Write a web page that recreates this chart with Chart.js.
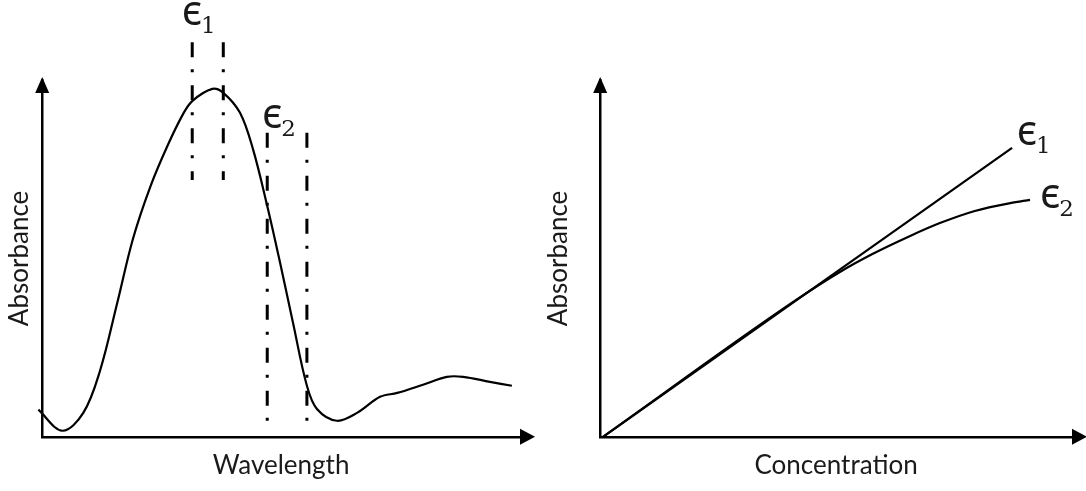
<!DOCTYPE html>
<html>
<head>
<meta charset="utf-8">
<script src="https://cdn.jsdelivr.net/npm/chart.js@4/dist/chart.umd.min.js"></script>
<style>
  html, body { margin: 0; padding: 0; background: #fff; }
  #wrap { display: flex; width: 1086px; height: 491px; }
  canvas { display: block; }
</style>
</head>
<body>
<div id="wrap">
  <canvas id="specChart" width="543" height="491"></canvas>
  <canvas id="beerChart" width="543" height="491"></canvas>
</div>
<script>
// absorbance spectrum (left panel), x = wavelength, y = absorbance (arbitrary units)
const spectrumX = [-0.8, 4.2, 8.6, 12.1, 15.7, 19.0, 22.6, 26.2, 29.5, 31.4, 35.6, 37.9, 41.4, 44.1, 47.1, 49.8, 52.5, 55.4, 57.5, 61.7, 65.9, 70.7, 74.3, 79.7, 84.7, 88.1, 93.7, 98.3];
const spectrumY = [7.6, 1.7, 6.7, 18.5, 37.5, 55.5, 70.0, 81.5, 90.5, 94.1, 97.5, 96.4, 90.8, 80.7, 64.7, 48.7, 31.9, 14.3, 7.8, 4.5, 6.7, 11.2, 12.3, 14.6, 16.8, 16.8, 15.4, 14.3];

// the two wavelength bands (dash-dot markers)
const band1X = [31.4, 37.9];
const band1Y = [110.6, 72.0];
const band2X = [47.1, 55.4];
const band2Y = [85.2, 1.4];

// absorbance vs concentration (right panel)
const eps1X = [0.6, 87.3];
const eps1Y = [0, 81.0];
const eps2X = [0.6, 40.9, 50.8, 57.8, 65.7, 72.0, 79.4, 86.9, 91.1];
const eps2Y = [0, 37.8, 46.2, 51.3, 56.3, 59.9, 63.3, 65.5, 66.4];

const textColor = "#1a1a1a";

function toPoints(xs, ys) {
  return xs.map((x, i) => ({ x: x, y: ys[i] }));
}

// arrow heads on axes + epsilon labels
const arrowsAndLabels = {
  id: "arrowsAndLabels",
  afterDraw(chart, args, opts) {
    const ctx = chart.ctx;
    const a = chart.chartArea;
    ctx.save();
    ctx.fillStyle = "#000";
    // y arrow
    ctx.beginPath();
    ctx.moveTo(a.left, a.top - 3);
    ctx.lineTo(a.left - 7, a.top + 13);
    ctx.lineTo(a.left + 7, a.top + 13);
    ctx.closePath();
    ctx.fill();
    // x arrow
    ctx.beginPath();
    ctx.moveTo(a.right + 15, a.bottom);
    ctx.lineTo(a.right, a.bottom - 8);
    ctx.lineTo(a.right, a.bottom + 8);
    ctx.closePath();
    ctx.fill();

    const xs = chart.scales.x, ys = chart.scales.y;
    ctx.fillStyle = textColor;
    ctx.textBaseline = "alphabetic";
    ctx.textAlign = "left";
    (opts.labels || []).forEach(l => {
      const px = xs.getPixelForValue(l.x);
      const py = ys.getPixelForValue(l.y);
      ctx.font = "41px 'Noto Sans', 'DejaVu Sans'";
      ctx.fillText("\u03F5", px, py);
      const w = ctx.measureText("\u03F5").width;
      ctx.font = "23px 'DejaVu Serif'";
      ctx.fillText(l.sub, px + w - 1, py + 8);
    });
    ctx.restore();
  }
};

function axisOpts(title, pad) {
  return {
    type: "linear",
    min: 0,
    max: 100,
    grid: { display: false, drawTicks: false },
    ticks: { display: false },
    border: { display: true, color: "#000", width: 2.5 },
    title: {
      display: true,
      text: title,
      color: textColor,
      font: { family: "Lato", size: 26 },
      padding: pad
    }
  };
}

const lineBase = { pointRadius: 0, borderColor: "#000", clip: false, fill: false };
const dashDot = [15, 12, 3, 13];

new Chart(document.getElementById("specChart"), {
  type: "line",
  data: {
    datasets: [
      Object.assign({ data: toPoints(spectrumX, spectrumY), borderWidth: 2.2, tension: 0.35 }, lineBase),
      Object.assign({ data: toPoints([band1X[0], band1X[0]], band1Y), borderWidth: 3, borderDash: dashDot }, lineBase),
      Object.assign({ data: toPoints([band1X[1], band1X[1]], band1Y), borderWidth: 3, borderDash: dashDot }, lineBase),
      Object.assign({ data: toPoints([band2X[0], band2X[0]], band2Y), borderWidth: 3, borderDash: dashDot }, lineBase),
      Object.assign({ data: toPoints([band2X[1], band2X[1]], band2Y), borderWidth: 3, borderDash: dashDot }, lineBase)
    ]
  },
  options: {
    responsive: false,
    animation: false,
    devicePixelRatio: 1,
    layout: { padding: { left: 4, right: 23, top: 80, bottom: 10 } },
    plugins: {
      legend: { display: false },
      tooltip: { enabled: false },
      arrowsAndLabels: { labels: [ { x: 29.2, y: 115.4, sub: "1" }, { x: 46.0, y: 86.6, sub: "2" } ] }
    },
    scales: {
      x: axisOpts("Wavelength", { top: 13, bottom: 0 }),
      y: axisOpts("Absorbance", { top: 0, bottom: 7 })
    }
  },
  plugins: [arrowsAndLabels]
});

new Chart(document.getElementById("beerChart"), {
  type: "line",
  data: {
    datasets: [
      Object.assign({ data: toPoints(eps1X, eps1Y), borderWidth: 2.2 }, lineBase),
      Object.assign({ data: toPoints(eps2X, eps2Y), borderWidth: 2.2, cubicInterpolationMode: "monotone" }, lineBase)
    ]
  },
  options: {
    responsive: false,
    animation: false,
    devicePixelRatio: 1,
    layout: { padding: { left: 0, right: 14, top: 80, bottom: 10 } },
    plugins: {
      legend: { display: false },
      tooltip: { enabled: false },
      arrowsAndLabels: { labels: [ { x: 88.3, y: 81.8, sub: "1" }, { x: 93.2, y: 64.1, sub: "2" } ] }
    },
    scales: {
      x: axisOpts("Concentration", { top: 13, bottom: 0 }),
      y: axisOpts("Absorbance", { top: 0, bottom: 26 })
    }
  },
  plugins: [arrowsAndLabels]
});
</script>
</body>
</html>
